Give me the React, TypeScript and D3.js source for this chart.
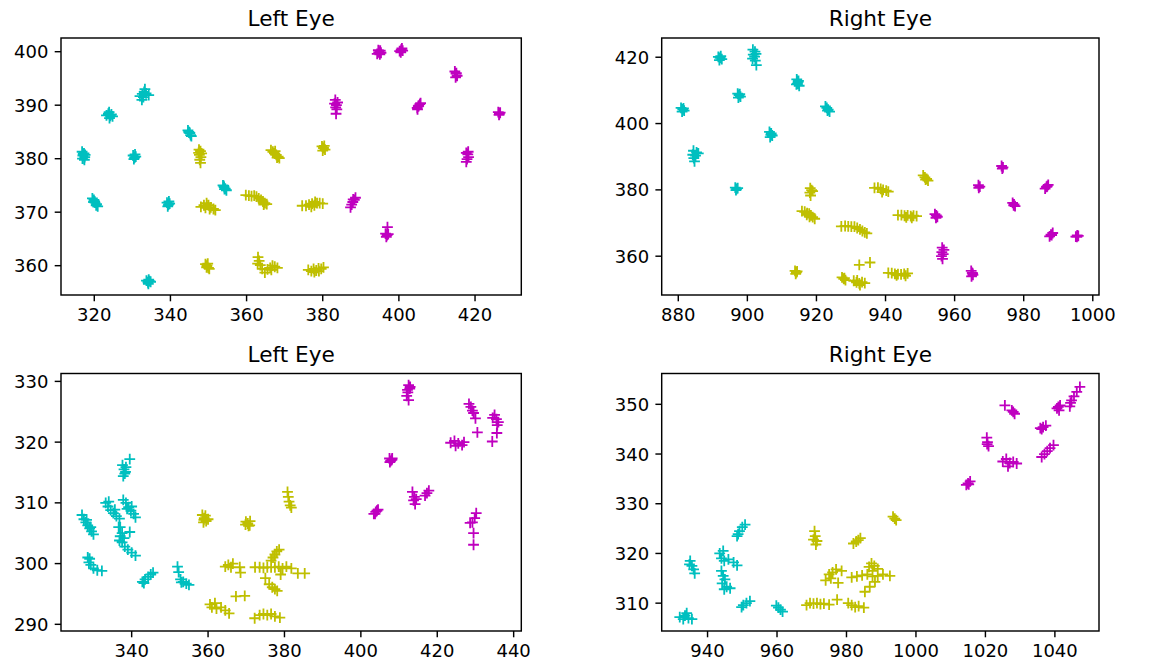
import React from "react";
import * as d3 from "d3";

// ---------- tick labels ----------
const tlXTicks = [320, 340, 360, 380, 400, 420];
const tlYTicks = [360, 370, 380, 390, 400];
const trXTicks = [880, 900, 920, 940, 960, 980, 1000];
const trYTicks = [360, 380, 400, 420];
const blXTicks = [340, 360, 380, 400, 420, 440];
const blYTicks = [290, 300, 310, 320, 330];
const brXTicks = [940, 960, 980, 1000, 1020, 1040];
const brYTicks = [310, 320, 330, 340, 350];

// ---------- Top-left: Left Eye ----------
const tlCyan: [number, number][] = [
  [316.8, 381.3], [317.3, 381.0], [317.0, 380.6], [317.5, 380.3], [316.9, 380.0], [317.4, 379.8], [317.1, 380.9], [317.6, 380.7],
  [319.5, 372.6], [319.9, 372.3], [320.2, 371.8], [320.6, 371.5], [320.9, 371.1], [320.1, 372.0], [320.5, 371.3], [319.8, 371.9],
  [323.2, 388.1], [323.7, 388.4], [324.2, 388.0], [324.8, 387.9], [324.0, 387.6], [324.5, 388.3], [323.9, 388.7],
  [332.0, 391.7], [332.6, 392.1], [333.1, 392.5], [333.6, 392.2], [334.3, 391.9], [332.9, 391.5], [333.3, 393.0], [332.5, 391.0],
  [330.2, 380.6], [330.6, 380.2], [330.9, 380.4], [330.4, 379.9], [330.7, 380.8],
  [344.6, 385.3], [344.9, 384.9], [345.3, 384.4], [345.1, 384.8], [344.8, 385.0], [345.5, 384.2],
  [339.1, 371.8], [339.5, 371.4], [339.8, 371.6], [339.3, 371.1], [339.6, 372.0],
  [353.8, 375.0], [354.1, 374.7], [354.4, 374.4], [354.7, 374.1], [354.2, 374.3], [354.0, 374.9],
  [333.7, 357.2], [334.1, 356.9], [334.5, 357.1], [334.8, 357.0], [334.2, 356.6], [334.3, 357.4],
];
const tlYellow: [number, number][] = [
  [347.5, 381.7], [347.9, 381.4], [348.2, 381.0], [347.6, 380.7], [348.0, 380.3], [347.7, 379.8], [347.9, 379.2], [347.4, 381.1],
  [348.0, 371.0], [348.8, 371.3], [349.5, 371.7], [350.0, 371.3], [350.6, 370.9], [351.3, 370.6], [351.8, 370.4], [349.2, 370.8], [350.3, 370.6],
  [349.2, 360.3], [349.6, 360.0], [350.0, 359.6], [349.8, 360.4], [350.2, 359.4], [349.5, 359.7],
  [366.4, 381.6], [366.9, 381.3], [367.3, 381.0], [367.8, 380.7], [368.3, 380.4], [368.6, 380.1], [367.5, 381.4], [368.0, 380.2],
  [379.8, 382.3], [380.2, 382.0], [380.6, 381.7], [380.0, 381.5], [380.4, 382.4],
  [359.8, 373.2], [360.6, 373.1], [361.3, 373.0], [362.0, 373.1], [362.6, 372.9], [363.2, 372.6], [363.8, 372.3], [364.3, 372.0], [364.8, 371.7], [365.3, 371.5], [364.5, 371.4],
  [374.6, 371.2], [375.6, 371.2], [376.4, 371.4], [377.2, 371.6], [377.8, 371.3], [378.5, 371.7], [379.2, 371.7], [380.0, 371.6], [377.0, 371.0], [378.0, 371.9],
  [363.0, 361.6], [363.3, 360.9], [362.9, 360.4], [363.6, 360.1], [364.1, 359.4], [364.8, 358.7], [365.5, 359.3], [366.2, 359.6], [366.8, 360.0], [367.4, 359.8], [368.1, 359.6], [366.5, 359.2],
  [376.2, 359.2], [377.0, 359.0], [377.6, 359.4], [378.3, 359.1], [378.9, 359.5], [379.6, 359.4], [380.2, 359.7], [377.8, 358.8], [379.0, 359.0],
];
const tlMagenta: [number, number][] = [
  [394.3, 399.6], [394.7, 399.9], [395.1, 400.2], [395.3, 399.8], [394.6, 400.3], [395.0, 399.5],
  [400.2, 400.1], [400.6, 400.4], [401.0, 400.2], [400.5, 399.9], [400.8, 400.6],
  [414.7, 396.3], [415.0, 395.9], [415.3, 395.5], [414.9, 395.2], [415.1, 396.0],
  [404.8, 389.5], [405.1, 389.8], [405.5, 390.2], [405.7, 390.4], [405.2, 389.9], [404.9, 389.2],
  [383.1, 390.3], [383.6, 390.0], [383.9, 390.5], [383.4, 389.6], [383.7, 389.2], [383.5, 388.4], [383.3, 391.0],
  [426.1, 388.7], [426.4, 388.4], [426.6, 388.6], [426.3, 388.2],
  [417.7, 381.1], [418.1, 380.8], [418.3, 380.3], [417.9, 379.9], [417.7, 379.4], [418.2, 381.3],
  [387.3, 370.9], [387.6, 371.4], [387.9, 371.9], [388.3, 372.3], [388.6, 372.7], [388.0, 372.4],
  [396.5, 366.0], [396.9, 365.7], [397.2, 365.9], [396.7, 365.4], [397.0, 367.2],
];

// ---------- Top-right: Right Eye ----------
const trCyan: [number, number][] = [
  [880.8, 404.7], [881.3, 404.3], [881.7, 403.9], [881.1, 403.6], [881.5, 404.6],
  [891.6, 420.1], [892.1, 419.8], [892.6, 419.4], [892.3, 420.3], [891.9, 419.1],
  [901.6, 422.3], [902.2, 421.7], [902.5, 421.0], [901.7, 420.8], [902.1, 420.2], [901.5, 419.6], [902.3, 419.0], [902.6, 417.6],
  [897.2, 409.0], [897.6, 408.6], [898.0, 408.1], [897.8, 408.9], [897.4, 407.8],
  [914.3, 413.3], [914.7, 412.6], [914.5, 412.0], [915.0, 411.4], [914.2, 411.8], [914.8, 412.9],
  [922.6, 405.2], [923.0, 404.7], [923.4, 404.2], [923.8, 403.6], [923.2, 403.9],
  [906.4, 397.5], [906.9, 397.0], [907.2, 396.4], [906.6, 395.9], [906.8, 396.6],
  [884.4, 391.8], [885.3, 391.3], [884.2, 390.6], [885.0, 390.3], [884.5, 389.6], [884.7, 388.6], [885.8, 391.0],
  [896.5, 380.7], [896.9, 380.3], [897.2, 380.5], [896.7, 379.9],
];
const trYellow: [number, number][] = [
  [918.2, 380.5], [918.6, 379.9], [918.9, 379.6], [918.1, 379.2], [918.3, 378.3],
  [915.8, 373.6], [916.6, 373.4], [917.3, 373.0], [917.9, 372.8], [918.4, 372.3], [918.9, 371.8], [919.5, 371.3], [917.2, 372.5], [918.0, 371.9],
  [913.8, 355.6], [914.2, 355.1], [914.0, 354.7], [914.4, 355.4],
  [927.2, 369.0], [928.3, 369.1], [929.2, 369.0], [930.1, 368.9], [931.0, 368.9], [931.8, 368.5], [932.6, 368.1], [933.3, 367.6], [934.0, 367.2], [934.6, 366.9],
  [936.8, 380.6], [937.8, 380.7], [938.6, 380.3], [939.3, 380.0], [940.2, 379.8], [940.8, 379.5], [939.0, 379.3],
  [950.9, 384.4], [951.4, 383.8], [951.9, 383.3], [952.3, 382.8], [951.6, 383.1],
  [943.6, 372.4], [944.6, 372.4], [945.5, 372.2], [946.4, 372.3], [947.3, 372.1], [948.1, 372.2], [949.0, 372.1], [946.0, 371.7], [947.6, 371.6],
  [940.8, 355.0], [941.8, 354.9], [942.7, 354.7], [943.6, 354.6], [944.5, 354.5], [945.4, 354.7], [946.4, 354.8], [943.2, 354.2], [945.8, 354.1],
  [927.4, 353.6], [927.9, 353.2], [928.4, 352.8], [928.1, 353.4],
  [930.8, 352.6], [931.6, 352.1], [932.4, 351.8], [933.2, 352.2], [934.0, 351.9], [932.6, 351.3], [931.8, 352.7],
  [932.4, 357.4], [935.5, 358.1],
];
const trMagenta: [number, number][] = [
  [954.3, 372.7], [954.7, 372.3], [955.0, 371.9], [954.6, 371.6],
  [956.4, 362.6], [956.9, 361.9], [956.3, 361.2], [956.7, 360.6], [956.2, 360.0], [956.5, 359.2],
  [964.8, 355.6], [965.1, 355.0], [965.3, 354.4], [964.9, 353.9], [965.2, 354.8],
  [966.9, 381.4], [967.3, 381.0], [967.0, 380.6],
  [973.6, 387.2], [974.0, 386.8], [973.8, 386.4],
  [976.8, 376.1], [977.2, 375.6], [977.5, 375.1], [977.1, 375.3],
  [986.2, 380.4], [986.6, 380.9], [987.1, 381.5], [986.8, 381.1],
  [987.5, 366.0], [987.9, 366.5], [988.4, 367.0], [988.1, 366.4],
  [995.1, 365.9], [995.5, 366.3], [995.8, 366.1], [995.4, 365.8],
];

// ---------- Bottom-left: Left Eye ----------
const blCyan: [number, number][] = [
  [327.0, 308.0], [327.5, 307.3], [328.0, 306.8], [328.5, 306.3], [329.0, 305.8], [329.5, 305.3], [330.0, 304.8], [328.2, 307.2], [329.3, 306.0],
  [328.5, 301.0], [328.8, 300.2], [329.3, 299.8], [330.0, 299.2], [331.0, 298.9], [332.2, 298.8], [329.0, 300.8],
  [333.2, 310.0], [333.8, 309.4], [334.5, 308.8], [335.2, 308.3], [336.0, 307.8], [336.8, 307.4], [337.0, 306.0], [334.0, 310.2], [335.6, 308.9],
  [337.6, 316.2], [338.0, 315.5], [338.2, 314.8], [337.8, 314.4], [338.5, 315.9], [339.5, 317.2], [338.4, 315.1],
  [337.8, 310.5], [338.5, 310.0], [339.2, 309.3], [339.8, 308.7], [340.5, 308.2], [341.0, 307.6], [338.8, 309.0], [340.0, 309.4],
  [336.6, 306.0], [337.0, 304.5], [337.5, 303.5], [338.2, 302.8], [339.0, 302.3], [340.0, 301.8], [341.0, 301.3], [337.5, 305.0], [339.5, 305.2], [336.8, 303.8], [338.0, 304.2],
  [342.8, 297.0], [343.5, 297.4], [344.3, 297.8], [345.0, 298.2], [345.6, 298.5], [343.2, 296.8],
  [352.0, 299.5], [352.3, 298.6], [352.8, 297.4], [353.5, 297.0], [354.3, 296.7], [355.0, 296.5], [353.0, 296.9],
];
const blYellow: [number, number][] = [
  [358.5, 308.0], [359.0, 307.5], [359.5, 307.0], [360.0, 307.3], [358.8, 306.8], [359.3, 307.9], [358.9, 307.2],
  [369.8, 306.4], [370.4, 306.6], [371.0, 307.0], [370.6, 306.2], [369.9, 306.9], [370.9, 306.3],
  [380.8, 311.8], [381.0, 311.0], [381.2, 310.2], [381.5, 309.6], [381.8, 309.2],
  [364.5, 299.5], [365.3, 299.8], [366.0, 299.4], [366.5, 300.0], [368.3, 299.4], [368.5, 298.5],
  [372.3, 299.4], [373.5, 299.4], [374.5, 299.3], [375.5, 299.4], [376.5, 299.4], [377.5, 299.4], [378.5, 299.5], [379.5, 299.2], [380.5, 299.5], [381.8, 299.2],
  [376.5, 300.5], [377.0, 301.0], [377.5, 301.5], [378.0, 302.0], [378.6, 302.3],
  [383.5, 298.4], [385.3, 298.4], [379.0, 298.2],
  [375.0, 297.6], [376.0, 296.6], [376.8, 296.1], [377.5, 295.8], [378.1, 295.5],
  [360.5, 293.3], [361.0, 292.8], [361.8, 293.5], [362.2, 292.6], [363.4, 292.8], [364.5, 292.3], [365.5, 291.8],
  [367.3, 294.6], [369.6, 294.7],
  [372.2, 291.0], [373.5, 291.5], [374.5, 291.7], [375.5, 291.5], [376.5, 291.7], [377.5, 291.3], [378.8, 291.1],
];
const blMagenta: [number, number][] = [
  [412.5, 329.4], [412.8, 328.8], [412.3, 328.2], [412.0, 327.6], [412.5, 326.9], [412.9, 329.1], [412.2, 328.6],
  [428.3, 326.3], [428.8, 325.8], [429.2, 325.2], [429.5, 324.8], [430.0, 323.9], [430.5, 321.6],
  [434.5, 324.0], [435.0, 324.5], [435.5, 323.8], [436.0, 323.3], [435.7, 322.8], [435.6, 321.5], [434.4, 320.1],
  [423.5, 319.9], [424.5, 320.2], [425.5, 319.8], [426.5, 319.5], [427.0, 320.0], [424.8, 319.4],
  [407.5, 317.3], [407.8, 316.9], [408.1, 317.1], [407.6, 316.7], [408.2, 317.3],
  [403.4, 308.2], [403.9, 308.5], [404.5, 308.9], [404.2, 308.7], [403.7, 308.2],
  [413.5, 311.8], [414.0, 311.0], [413.8, 310.4], [414.2, 309.8], [414.5, 310.6],
  [416.8, 311.2], [417.3, 311.6], [417.8, 312.0],
  [430.2, 308.3], [429.8, 307.5], [429.2, 306.8], [428.6, 306.7], [429.5, 305.0], [429.5, 303.1],
];

// ---------- Bottom-right: Right Eye ----------
const brCyan: [number, number][] = [
  [932.0, 307.2], [933.5, 307.5], [934.5, 307.0], [935.5, 306.8], [933.0, 306.8], [934.0, 308.0],
  [935.0, 318.5], [935.5, 317.5], [936.0, 316.8], [936.3, 316.0], [934.8, 317.8],
  [948.5, 323.5], [949.2, 324.5], [950.0, 325.3], [950.8, 325.8], [948.8, 323.9],
  [943.5, 320.0], [944.0, 319.0], [944.8, 318.5], [946.0, 318.8], [947.5, 318.2], [948.5, 317.6], [944.5, 320.5],
  [944.0, 316.5], [944.5, 315.5], [945.0, 314.8], [944.2, 314.0], [945.5, 313.3], [946.5, 313.0], [944.8, 312.8],
  [949.8, 309.2], [950.3, 309.6], [951.2, 310.0], [952.2, 310.4],
  [959.8, 309.5], [960.4, 309.1], [961.0, 308.7], [961.6, 308.3],
];
const brYellow: [number, number][] = [
  [970.8, 324.5], [971.0, 323.5], [971.5, 322.5], [971.2, 321.8], [970.5, 322.8],
  [982.0, 322.0], [982.8, 322.4], [983.4, 322.7], [984.0, 323.1],
  [993.4, 327.4], [993.9, 327.0], [994.3, 326.7],
  [974.0, 314.6], [975.0, 315.8], [976.0, 316.2], [977.0, 316.8], [975.5, 315.0], [978.6, 316.5], [977.6, 314.1],
  [968.5, 309.6], [969.5, 310.0], [970.5, 309.9], [971.5, 310.0], [972.5, 309.8], [973.5, 309.9], [975.0, 309.7],
  [977.3, 310.7],
  [980.5, 310.0], [981.5, 309.6], [982.5, 309.2], [983.5, 309.4], [985.0, 309.1],
  [986.5, 317.3], [987.2, 318.0], [988.0, 317.5], [989.0, 316.9], [987.5, 316.5],
  [981.5, 315.2], [983.0, 315.4], [984.5, 315.6], [986.0, 315.8], [987.5, 315.4], [989.0, 315.5], [990.5, 315.8], [992.5, 315.5],
  [985.3, 312.3], [986.7, 313.3], [988.2, 314.3],
];
const brMagenta: [number, number][] = [
  [1014.5, 333.8], [1015.0, 334.1], [1015.6, 334.5], [1015.2, 333.9],
  [1020.4, 343.3], [1020.6, 342.4], [1020.9, 341.6], [1020.5, 342.0],
  [1025.0, 338.5], [1026.0, 339.0], [1027.0, 338.2], [1028.0, 338.4], [1029.0, 338.1], [1026.5, 337.5],
  [1027.6, 348.8], [1028.0, 348.5], [1028.4, 348.1], [1025.6, 349.8],
  [1035.8, 345.2], [1036.6, 345.4], [1037.4, 345.7], [1036.2, 345.0],
  [1036.2, 339.4], [1037.0, 340.0], [1037.8, 340.6], [1038.6, 341.2], [1039.6, 341.8],
  [1040.6, 349.2], [1041.0, 349.5], [1041.5, 349.8], [1041.2, 348.8],
  [1044.5, 350.3], [1044.8, 350.8], [1045.5, 351.6], [1046.3, 352.5], [1047.2, 353.5], [1044.3, 349.6],
];

const CYAN = "#00bfbf";
const YELLOW = "#bfbf00";
const MAGENTA = "#bf00bf";

type Pt = [number, number];
interface Panel {
  title: string;
  left: number; right: number; top: number; bottom: number;
  xDomain: [number, number]; yDomain: [number, number];
  xTicks: number[]; yTicks: number[];
  series: { color: string; pts: Pt[] }[];
}

const panels: Panel[] = [
  {
    title: "Left Eye", left: 61, right: 521.3, top: 38, bottom: 295,
    xDomain: [311.26, 432.15], yDomain: [354.52, 402.56],
    xTicks: tlXTicks, yTicks: tlYTicks,
    series: [{ color: CYAN, pts: tlCyan }, { color: YELLOW, pts: tlYellow }, { color: MAGENTA, pts: tlMagenta }],
  },
  {
    title: "Right Eye", left: 661.7, right: 1099, top: 38, bottom: 295,
    xDomain: [875.2, 1001.8], yDomain: [348.3, 425.8],
    xTicks: trXTicks, yTicks: trYTicks,
    series: [{ color: CYAN, pts: trCyan }, { color: YELLOW, pts: trYellow }, { color: MAGENTA, pts: trMagenta }],
  },
  {
    title: "Left Eye", left: 61, right: 521.3, top: 373.5, bottom: 631,
    xDomain: [321.5, 442], yDomain: [288.9, 331.3],
    xTicks: blXTicks, yTicks: blYTicks,
    series: [{ color: CYAN, pts: blCyan }, { color: YELLOW, pts: blYellow }, { color: MAGENTA, pts: blMagenta }],
  },
  {
    title: "Right Eye", left: 661.7, right: 1099, top: 373.5, bottom: 631,
    xDomain: [926.8, 1052.7], yDomain: [304.4, 356.2],
    xTicks: brXTicks, yTicks: brYTicks,
    series: [{ color: CYAN, pts: brCyan }, { color: YELLOW, pts: brYellow }, { color: MAGENTA, pts: brMagenta }],
  },
];

const FONT = "DejaVu Sans, sans-serif";
const M = 5.4; // half marker size

function PanelView({ p }: { p: Panel }) {
  const x = d3.scaleLinear().domain(p.xDomain).range([p.left, p.right]);
  const y = d3.scaleLinear().domain(p.yDomain).range([p.bottom, p.top]);
  const cx = (p.left + p.right) / 2;
  return (
    <g>
      <text x={cx} y={p.top - 11.8} textAnchor="middle" fontFamily={FONT} fontSize={21.6} fill="#000">
        {p.title}
      </text>
      {p.series.map((s, si) => (
        <path
          key={si}
          d={s.pts
            .map(([a, b]) => {
              const px = x(a), py = y(b);
              return `M${px - M},${py}h${2 * M}M${px},${py - M}v${2 * M}`;
            })
            .join("")}
          stroke={s.color}
          strokeWidth={1.8}
          fill="none"
        />
      ))}
      <rect
        x={p.left} y={p.top} width={p.right - p.left} height={p.bottom - p.top}
        fill="none" stroke="#000" strokeWidth={1.44}
      />
      {p.xTicks.map((t) => (
        <g key={"x" + t}>
          <line x1={x(t)} x2={x(t)} y1={p.bottom} y2={p.bottom + 6.3} stroke="#000" strokeWidth={1.44} />
          <text x={x(t)} y={p.bottom + 26} textAnchor="middle" fontFamily={FONT} fontSize={18} fill="#000">
            {t}
          </text>
        </g>
      ))}
      {p.yTicks.map((t) => (
        <g key={"y" + t}>
          <line x1={p.left - 6.3} x2={p.left} y1={y(t)} y2={y(t)} stroke="#000" strokeWidth={1.44} />
          <text x={p.left - 12.6} y={y(t) + 6.5} textAnchor="end" fontFamily={FONT} fontSize={18} fill="#000">
            {t}
          </text>
        </g>
      ))}
    </g>
  );
}

export default function App() {
  return (
    <svg
      width={1149}
      height={666}
      style={{ position: "absolute", left: 0, top: 0, background: "#fff" }}
    >
      <rect x={0} y={0} width={1149} height={666} fill="#fff" />
      {panels.map((p, i) => (
        <PanelView key={i} p={p} />
      ))}
    </svg>
  );
}
